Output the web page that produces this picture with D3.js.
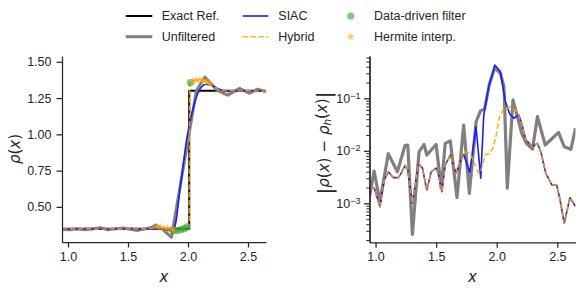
<!DOCTYPE html>
<html><head><meta charset="utf-8">
<script src="https://cdn.jsdelivr.net/npm/d3@7"></script>
<style>body{margin:0;background:#fff}</style>
</head><body>
<svg id="c" width="581" height="289"></svg>
<script>
// ---------- data: left panel (density) ----------
const exactX = [0.95, 2.01, 2.01, 2.65];
const exactY = [0.35, 0.35, 1.30, 1.30];
const unfX = [0.95, 1.02, 1.08, 1.14, 1.20, 1.27, 1.33, 1.40, 1.46, 1.52, 1.58, 1.64, 1.70, 1.73, 1.79, 1.862, 2.07, 2.14, 2.24, 2.33, 2.43, 2.51, 2.58, 2.65];
const unfY = [0.345, 0.342, 0.35, 0.343, 0.347, 0.356, 0.342, 0.35, 0.355, 0.345, 0.338, 0.347, 0.36, 0.375, 0.345, 0.29, 1.30, 1.395, 1.305, 1.27, 1.317, 1.283, 1.312, 1.293];
const siacX = [0.95, 1.05, 1.15, 1.25, 1.35, 1.45, 1.55, 1.65, 1.72, 1.78, 1.83, 1.875, 1.90, 1.93, 1.96, 1.99, 2.02, 2.05, 2.08, 2.11, 2.15, 2.19, 2.24, 2.30, 2.38, 2.46, 2.54, 2.65];
const siacY = [0.348, 0.346, 0.350, 0.347, 0.348, 0.349, 0.350, 0.347, 0.352, 0.348, 0.340, 0.332, 0.40, 0.60, 0.79, 0.97, 1.10, 1.20, 1.28, 1.325, 1.345, 1.34, 1.318, 1.302, 1.30, 1.30, 1.30, 1.298];
const hybX = [0.95, 1.05, 1.15, 1.25, 1.35, 1.45, 1.55, 1.65, 1.70, 1.74, 1.78, 1.82, 1.86, 1.89, 1.94, 2.00, 2.01, 2.015, 2.05, 2.10, 2.15, 2.20, 2.26, 2.35, 2.45, 2.55, 2.65];
const hybY = [0.348, 0.346, 0.350, 0.347, 0.348, 0.349, 0.350, 0.347, 0.352, 0.362, 0.358, 0.352, 0.346, 0.340, 0.345, 0.352, 0.36, 1.355, 1.372, 1.375, 1.365, 1.335, 1.305, 1.30, 1.30, 1.30, 1.298];
const ddX = [1.88, 1.91, 1.94, 1.97, 1.99, 2.02];
const ddY = [0.335, 0.337, 0.343, 0.350, 0.362, 1.356];
const herX = [1.74, 1.77, 1.80, 1.83, 1.86, 1.88, 2.04, 2.07, 2.10, 2.13, 2.16, 2.18];
const herY = [0.362, 0.360, 0.356, 0.352, 0.347, 0.342, 1.368, 1.374, 1.376, 1.370, 1.360, 1.350];

// ---------- data: right panel (pointwise error) ----------
const errUnfX = [0.95, 0.988, 1.036, 1.105, 1.18, 1.243, 1.266, 1.304, 1.359, 1.40, 1.423, 1.50, 1.542, 1.575, 1.617, 1.672, 1.727, 1.774, 1.83, 1.866, 1.90, 1.94, 1.984, 2.03, 2.06, 2.087, 2.134, 2.206, 2.245, 2.295, 2.336, 2.40, 2.45, 2.51, 2.557, 2.612, 2.65];
const errUnfY = [0.00134, 0.00412, 0.00107, 0.00881, 0.00398, 0.0126, 0.0129, 0.000257, 0.00955, 0.0133, 0.00832, 0.0132, 0.00195, 0.0139, 0.0155, 0.00129, 0.0309, 0.00155, 0.0358, 0.0575, 0.063, 0.19, 0.38, 0.30, 0.166, 0.00195, 0.0933, 0.0215, 0.0139, 0.0108, 0.0447, 0.0129, 0.0166, 0.0225, 0.0120, 0.0107, 0.0269];
const errSiacX = [0.95, 0.989, 1.036, 1.071, 1.105, 1.146, 1.188, 1.21, 1.243, 1.266, 1.304, 1.354, 1.387, 1.423, 1.459, 1.50, 1.52, 1.548, 1.575, 1.617, 1.664, 1.70, 1.727, 1.777, 1.829, 1.868, 1.893, 1.934, 1.984, 2.03, 2.07, 2.105, 2.14, 2.183, 2.21, 2.24, 2.295, 2.336, 2.364, 2.405, 2.455, 2.494, 2.52, 2.557, 2.604, 2.65];
const errSiacY = [0.0020, 0.00195, 0.00086, 0.00278, 0.00398, 0.00309, 0.00309, 0.00372, 0.00525, 0.0043, 0.0010, 0.00575, 0.00468, 0.00178, 0.00398, 0.00468, 0.00347, 0.00166, 0.00537, 0.00832, 0.00372, 0.00617, 0.00851, 0.00389, 0.0288, 0.00302, 0.0481, 0.166, 0.43, 0.324, 0.0891, 0.0513, 0.0417, 0.0481, 0.0309, 0.0162, 0.0120, 0.0139, 0.00955, 0.00372, 0.00224, 0.00224, 0.00124, 0.000417, 0.00128, 0.00088];
const errHybX = [0.95, 0.989, 1.036, 1.071, 1.105, 1.146, 1.188, 1.21, 1.243, 1.266, 1.304, 1.354, 1.387, 1.423, 1.459, 1.50, 1.52, 1.548, 1.575, 1.617, 1.664, 1.70, 1.727, 1.74, 1.78, 1.851, 1.866, 1.907, 1.94, 1.968, 1.996, 2.023, 2.059, 2.087, 2.114, 2.17, 2.21, 2.24, 2.295, 2.336, 2.364, 2.405, 2.455, 2.494, 2.52, 2.557, 2.604, 2.65];
const errHybY = [0.0020, 0.00195, 0.00086, 0.00278, 0.00398, 0.00309, 0.00309, 0.00372, 0.00525, 0.0043, 0.0010, 0.00575, 0.00468, 0.00178, 0.00398, 0.00468, 0.00347, 0.00166, 0.00537, 0.00832, 0.00372, 0.00617, 0.00851, 0.00955, 0.00912, 0.00372, 0.0040, 0.00851, 0.00891, 0.0112, 0.020, 0.0447, 0.063, 0.0646, 0.0692, 0.0556, 0.0309, 0.0162, 0.0120, 0.0139, 0.00955, 0.00372, 0.00224, 0.00224, 0.00124, 0.000417, 0.00128, 0.00088];

// ---------- ticks / legend ----------
const xTicks = [1.0, 1.5, 2.0, 2.5];
const yTicksL = [0.50, 0.75, 1.00, 1.25, 1.50];
const yTicksR = [1e-3, 1e-2, 1e-1];
const yTickExp = ["−3", "−2", "−1"];
const legendLabels = ["Exact Ref.", "Unfiltered", "SIAC", "Hybrid", "Data-driven filter", "Hermite interp."];

// ---------- styles ----------
const FONT = "'Liberation Sans', Arial, sans-serif";
const MATH = "'DejaVu Sans', sans-serif";
const INK = "#262626";
const C = {exact: "#000000", unf: "#808080", siac: "#1a1aff", hyb: "#ffa500", dd: "#2ca02c", her: "#ffa500"};

const svg = d3.select("#c");
const defs = svg.append("defs");

function panel(id, xs, ys) {
  const [x0, x1] = xs.range(), [y0, y1] = ys.range();
  defs.append("clipPath").attr("id", id).append("rect")
    .attr("x", x0).attr("y", y1).attr("width", x1 - x0).attr("height", y0 - y1);
  return svg.append("g").attr("clip-path", `url(#${id})`);
}
function line(g, xs, ys, X, Y, color, w, opts = {}) {
  const gen = d3.line().x((d, i) => xs(X[i])).y((d, i) => ys(Y[i]));
  if (opts.curve) gen.curve(opts.curve);
  g.append("path").attr("d", gen(X)).attr("fill", "none").attr("stroke", color)
    .attr("stroke-width", w).attr("stroke-opacity", opts.op || 1)
    .attr("stroke-dasharray", opts.dash || null).attr("stroke-linejoin", "round");
}
function styleAxis(g) {
  g.selectAll(".domain").attr("stroke", INK).attr("stroke-width", 1.25);
  g.selectAll(".tick line").attr("stroke", INK).attr("stroke-width", 1.25);
  g.selectAll(".tick text").attr("fill", INK).attr("font-family", FONT).attr("font-size", 12.5);
}

// ---------- left panel ----------
const xL = d3.scaleLinear().domain([0.95, 2.65]).range([62, 266]);
const yL = d3.scaleLinear().domain([0.258, 1.54]).range([242, 56]);
const gL = panel("clipL", xL, yL);
line(gL, xL, yL, exactX, exactY, C.exact, 2);
line(gL, xL, yL, unfX, unfY, C.unf, 3);
line(gL, xL, yL, siacX, siacY, C.siac, 1.6, {curve: d3.curveMonotoneX});
line(gL, xL, yL, hybX, hybY, C.hyb, 1.6, {dash: "5.5,2.4", op: 0.85});
gL.selectAll("circle.dd").data(ddX).join("circle")
  .attr("cx", (d, i) => xL(ddX[i])).attr("cy", (d, i) => yL(ddY[i])).attr("r", 3.6)
  .attr("fill", C.dd).attr("fill-opacity", 0.6);
gL.selectAll("path.her").data(herX).join("path")
  .attr("transform", (d, i) => `translate(${xL(herX[i])},${yL(herY[i])})`)
  .attr("d", d3.symbol(d3.symbolStar, 22)).attr("fill", C.her).attr("fill-opacity", 0.6);

const axLx = svg.append("g").attr("transform", "translate(0,242)")
  .call(d3.axisBottom(xL).tickValues(xTicks).tickFormat(d3.format(".1f")).tickSize(5.5).tickPadding(4.5).tickSizeOuter(0));
const axLy = svg.append("g").attr("transform", "translate(62,0)")
  .call(d3.axisLeft(yL).tickValues(yTicksL).tickFormat(d3.format(".2f")).tickSize(5.5).tickPadding(5).tickSizeOuter(0));
styleAxis(axLx); styleAxis(axLy);

// ---------- right panel ----------
const xR = d3.scaleLinear().domain([0.95, 2.65]).range([369.5, 575.5]);
const yR = d3.scaleLog().domain([1.81e-4, 0.64]).range([242.3, 56]);
const gR = panel("clipR", xR, yR);
line(gR, xR, yR, errUnfX, errUnfY, C.unf, 3.2);
line(gR, xR, yR, errSiacX, errSiacY, C.siac, 1.6);
line(gR, xR, yR, errHybX, errHybY, C.hyb, 1.6, {dash: "5.5,2.4", op: 0.85});

const minor = [];
[1e-4, 1e-3, 1e-2, 1e-1].forEach(b => { for (let k = 2; k <= 9; k++) { const v = b * k; if (v >= 1.81e-4 && v <= 0.64) minor.push(v); } });
const axRx = svg.append("g").attr("transform", "translate(0,242.3)")
  .call(d3.axisBottom(xR).tickValues(xTicks).tickFormat(d3.format(".1f")).tickSize(5.5).tickPadding(4.5).tickSizeOuter(0));
const axRyMin = svg.append("g").attr("transform", "translate(369.5,0)")
  .call(d3.axisLeft(yR).tickValues(minor).tickFormat("").tickSize(3.2).tickSizeOuter(0));
const axRy = svg.append("g").attr("transform", "translate(369.5,0)")
  .call(d3.axisLeft(yR).tickValues(yTicksR).tickFormat("").tickSize(5.5).tickSizeOuter(0));
styleAxis(axRx); styleAxis(axRyMin); styleAxis(axRy);
axRyMin.selectAll(".tick line").attr("stroke-width", 1);
axRy.selectAll(".tick").each(function (d, i) {
  const t = d3.select(this).append("text").attr("x", -9).attr("dy", "0.32em")
    .attr("text-anchor", "end").attr("fill", INK).attr("font-family", FONT).attr("font-size", 12.5);
  t.append("tspan").text("10");
  t.append("tspan").attr("dy", "-0.45em").attr("font-size", 9).text(yTickExp[i]);
});

// ---------- axis labels ----------
function mathLabel(x, y, parts, rot) {
  const t = svg.append("text").attr("font-family", MATH).attr("font-size", 15).attr("fill", INK)
    .attr("text-anchor", "middle").attr("dominant-baseline", "central")
    .attr("transform", `translate(${x},${y})` + (rot ? " rotate(-90)" : ""));
  parts.forEach(p => {
    const s = t.append("tspan").text(p.t).attr("font-style", p.i ? "italic" : "normal");
    if (p.fs) s.attr("font-size", p.fs);
    if (p.dy) s.attr("dy", p.dy);
  });
}
mathLabel(164, 277, [{t: "x", i: 1}]);
mathLabel(472.5, 277, [{t: "x", i: 1}]);
mathLabel(15, 149, [{t: "ρ", i: 1}, {t: "("}, {t: "x", i: 1}, {t: ")"}], true);
mathLabel(323, 143, [{t: "|", fs: 20, dy: "0.1em"}, {t: "ρ", i: 1, dy: "-0.1em"}, {t: "("}, {t: "x", i: 1}, {t: ")\u2004−\u2004"}, {t: "ρ", i: 1},
  {t: "h", i: 1, fs: 10.5, dy: "0.3em"}, {t: "(", dy: "-0.3em"}, {t: "x", i: 1}, {t: ")"}, {t: "|", fs: 20, dy: "0.1em"}], true);

// ---------- legend ----------
const lg = svg.append("g");
const colX = [125.7, 242.7, 345];
const rowY = [16, 36.7];
const textX = [161.7, 278.3, 374];
legendLabels.forEach((lab, i) => {
  const c = Math.floor(i / 2), r = i % 2, y = rowY[r];
  if (i === 0) lg.append("line").attr("x1", colX[0]).attr("x2", colX[0] + 26.6).attr("y1", y).attr("y2", y).attr("stroke", C.exact).attr("stroke-width", 2);
  if (i === 1) lg.append("line").attr("x1", colX[0]).attr("x2", colX[0] + 26.6).attr("y1", y).attr("y2", y).attr("stroke", C.unf).attr("stroke-width", 3);
  if (i === 2) lg.append("line").attr("x1", colX[1]).attr("x2", colX[1] + 25.6).attr("y1", y).attr("y2", y).attr("stroke", C.siac).attr("stroke-width", 1.6);
  if (i === 3) lg.append("line").attr("x1", colX[1]).attr("x2", colX[1] + 25.6).attr("y1", y).attr("y2", y).attr("stroke", C.hyb).attr("stroke-width", 1.6).attr("stroke-opacity", 0.85).attr("stroke-dasharray", "5.5,2.4");
  if (i === 4) lg.append("circle").attr("cx", 350.7).attr("cy", y).attr("r", 3.6).attr("fill", C.dd).attr("fill-opacity", 0.6);
  if (i === 5) lg.append("path").attr("transform", `translate(350.7,${y})`).attr("d", d3.symbol(d3.symbolStar, 22)).attr("fill", C.her).attr("fill-opacity", 0.6);
  lg.append("text").attr("x", textX[c]).attr("y", y).attr("dominant-baseline", "central")
    .attr("font-family", FONT).attr("font-size", 12.5).attr("fill", INK).text(lab);
});
</script>
</body></html>
